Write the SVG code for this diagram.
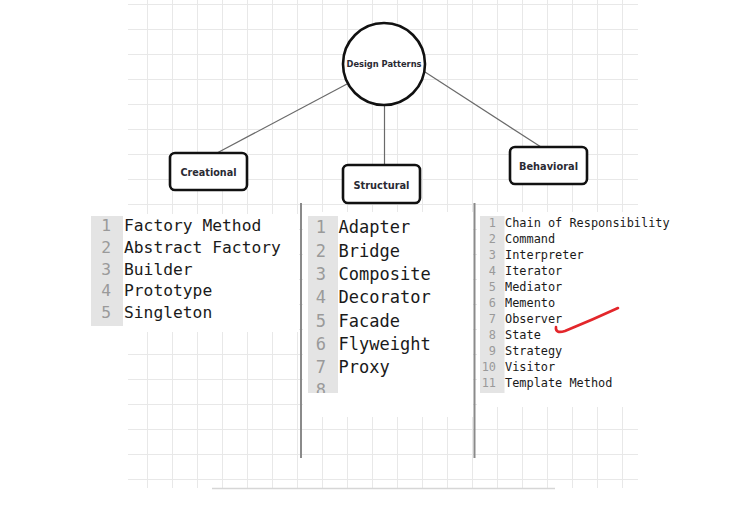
<svg xmlns="http://www.w3.org/2000/svg" width="752" height="510" viewBox="0 0 752 510">
<style>
.node{fill:#fff;stroke:#111;stroke-width:2.6}
.lbl{font-family:"DejaVu Sans",Verdana,sans-serif;font-weight:bold;fill:#2a2a33;text-anchor:middle;dominant-baseline:central}
.conn{stroke:#6a6a6a;stroke-width:1.2;fill:none}
.sep{stroke:#8a8a8a;stroke-width:2}
.gut{fill:#e4e4e4}
.blk{fill:#fff}
.code{font-family:"DejaVu Sans Mono","Liberation Mono",monospace;fill:#1a1a1a}
.num{font-family:"DejaVu Sans Mono","Liberation Mono",monospace;fill:#9a9a9a;text-anchor:end}
</style>
<defs>
<pattern id="grid" patternUnits="userSpaceOnUse" x="122" y="4" width="25" height="25">
<path d="M0 0.5H25M0.5 0V25" stroke="#e8e8e8" stroke-width="1" fill="none"/>
</pattern>
</defs>
<rect width="752" height="510" fill="#fff"/>
<rect x="128" y="0" width="510" height="488" fill="url(#grid)"/>
<line x1="212" y1="488.5" x2="555" y2="488.5" stroke="#d6d6d6" stroke-width="1.5"/>

<g id="connectors">
<line class="conn" x1="347" y1="84" x2="217" y2="153"/>
<line class="conn" x1="384.5" y1="105" x2="384.5" y2="165"/>
<line class="conn" x1="425" y1="72" x2="541" y2="147"/>
</g>

<g id="design-patterns">
<circle class="node" cx="384" cy="64" r="41"/>
<text class="lbl" x="384" y="64" font-size="8.5" textLength="75" lengthAdjust="spacingAndGlyphs">Design Patterns</text>
</g>
<g id="creational">
<rect class="node" x="170" y="153" width="77" height="37" rx="5"/>
<text class="lbl" x="208.5" y="172" font-size="10.5" textLength="56" lengthAdjust="spacingAndGlyphs">Creational</text>
</g>
<g id="structural">
<rect class="node" x="343" y="165" width="77" height="38" rx="5"/>
<text class="lbl" x="381.5" y="184.5" font-size="10.5" textLength="56" lengthAdjust="spacingAndGlyphs">Structural</text>
</g>
<g id="behavioral">
<rect class="node" x="510" y="147" width="77" height="37" rx="5"/>
<text class="lbl" x="548.5" y="166" font-size="10.5" textLength="59" lengthAdjust="spacingAndGlyphs">Behavioral</text>
</g>

<g id="creational-list">
<rect class="blk" x="91" y="214" width="208" height="118"/>
<rect class="gut" x="91" y="216" width="32" height="110"/>
<g class="num" font-size="16.3">
<text x="111" y="231">1</text><text x="111" y="252.8">2</text><text x="111" y="274.6">3</text><text x="111" y="296.4">4</text><text x="111" y="318.2">5</text>
</g>
<g class="code" font-size="16.3">
<text x="124" y="231">Factory Method</text>
<text x="124" y="252.8">Abstract Factory</text>
<text x="124" y="274.6">Builder</text>
<text x="124" y="296.4">Prototype</text>
<text x="124" y="318.2">Singleton</text>
</g>
</g>

<g id="structural-list">
<rect class="blk" x="303" y="212" width="170" height="205"/>
<rect class="gut" x="308" y="216" width="30" height="177"/>
<clipPath id="sclip"><rect x="300" y="210" width="175" height="183"/></clipPath>
<g clip-path="url(#sclip)">
<g class="num" font-size="17">
<text x="326" y="233.3">1</text><text x="326" y="256.6">2</text><text x="326" y="279.9">3</text><text x="326" y="303.2">4</text><text x="326" y="326.5">5</text><text x="326" y="349.8">6</text><text x="326" y="373.1">7</text><text x="326" y="396.4">8</text>
</g>
</g>
<g class="code" font-size="17">
<text x="338.5" y="233.3">Adapter</text>
<text x="338.5" y="256.6">Bridge</text>
<text x="338.5" y="279.9">Composite</text>
<text x="338.5" y="303.2">Decorator</text>
<text x="338.5" y="326.5">Facade</text>
<text x="338.5" y="349.8">Flyweight</text>
<text x="338.5" y="373.1">Proxy</text>
</g>
</g>

<g id="behavioral-list">
<rect class="blk" x="477" y="212" width="195" height="195"/>
<rect class="gut" x="480" y="216" width="24.5" height="177"/>
<g class="num" font-size="11.9">
<text x="496" y="227.3">1</text><text x="496" y="243.3">2</text><text x="496" y="259.3">3</text><text x="496" y="275.3">4</text><text x="496" y="291.3">5</text><text x="496" y="307.3">6</text><text x="496" y="323.3">7</text><text x="496" y="339.3">8</text><text x="496" y="355.3">9</text><text x="496" y="371.3">10</text><text x="496" y="387.3">11</text>
</g>
<g class="code" font-size="11.9">
<text x="505" y="227.3">Chain of Responsibility</text>
<text x="505" y="243.3">Command</text>
<text x="505" y="259.3">Interpreter</text>
<text x="505" y="275.3">Iterator</text>
<text x="505" y="291.3">Mediator</text>
<text x="505" y="307.3">Memento</text>
<text x="505" y="323.3">Observer</text>
<text x="505" y="339.3">State</text>
<text x="505" y="355.3">Strategy</text>
<text x="505" y="371.3">Visitor</text>
<text x="505" y="387.3">Template Method</text>
</g>
</g>

<g id="separators">
<line class="sep" x1="301" y1="203" x2="301" y2="458"/>
<line class="sep" x1="474.5" y1="203" x2="474.5" y2="458"/>
</g>

<path d="M556 327Q555 334 565 331Q592 320 618 308" fill="none" stroke="#e3262b" stroke-width="2.6" stroke-linecap="round"/>
</svg>
